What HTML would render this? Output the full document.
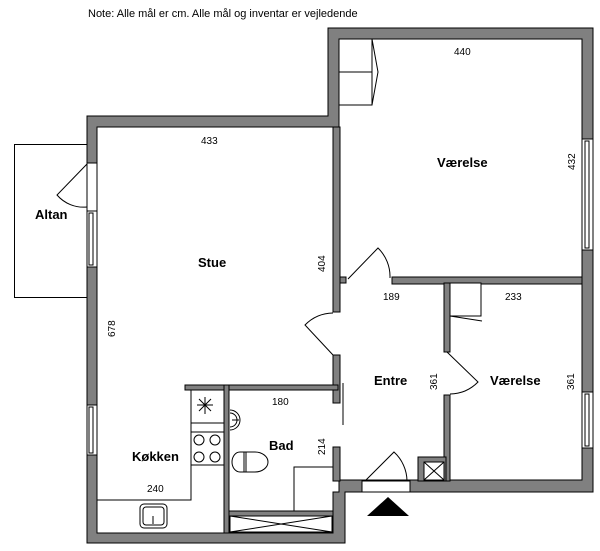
<!DOCTYPE html>
<html><head><meta charset="utf-8"><style>
html,body{margin:0;padding:0;background:#fff;width:600px;height:551px;overflow:hidden}
svg{display:block}
text{font-family:"Liberation Sans",sans-serif;fill:#000}
.w{fill:#808080;stroke:#000;stroke-width:1}
.l{fill:none;stroke:#000;stroke-width:1}
.f{fill:#fff;stroke:#000;stroke-width:1}
.b{font-weight:bold;font-size:13px}
.s{font-size:10px}
</style></head><body>
<svg width="600" height="551" viewBox="0 0 600 551">
<text x="88" y="17" font-size="11">Note: Alle mål er cm. Alle mål og inventar er vejledende</text>
<!-- Altan -->
<rect x="14.5" y="144.5" width="73" height="153" class="l"/>
<!-- outer walls -->
<path class="w" d="M87,116 H328 V28 H593 V492 H345 V543 H87 Z M97,127 V533 H224 V390 H229 V533 H333 V492 H339 V480 H582 V39 H339 V127 Z" fill-rule="evenodd"/>
<!-- Stue/right divider -->
<rect class="w" x="333" y="127" width="7" height="185"/>
<rect class="w" x="333" y="355" width="7" height="48"/>
<rect class="w" x="333" y="447" width="7" height="34"/>
<rect class="w" x="340" y="277" width="6" height="6"/>
<!-- Værelse bottom wall -->
<rect class="w" x="392" y="277" width="190" height="7"/>
<!-- Entre / lower værelse wall -->
<rect class="w" x="444" y="283" width="6" height="69"/>
<rect class="w" x="444" y="395" width="6" height="86"/>
<!-- shaft -->
<rect class="w" x="418" y="457" width="28" height="24"/>
<rect class="f" x="424" y="462" width="20" height="18"/>
<path class="l" d="M424,462 L444,480 M444,462 L424,480"/>
<!-- kitchen/bath walls -->
<rect class="w" x="185" y="385" width="153" height="5"/>
<rect class="w" x="224" y="385" width="5" height="148"/>
<rect class="w" x="229" y="511" width="104" height="5"/>
<rect class="f" x="230" y="516" width="102" height="16"/>
<path class="l" d="M230,516 L332,532 M332,516 L230,532"/>
<!-- windows -->
<rect class="f" x="87" y="211" width="10" height="56"/><rect class="l" x="89" y="213" width="4" height="52"/>
<rect class="f" x="87" y="405" width="10" height="50"/><rect class="l" x="89" y="407" width="4" height="46"/>
<rect class="f" x="582" y="139" width="11" height="111"/><rect class="l" x="585" y="141" width="4" height="107"/>
<rect class="f" x="582" y="392" width="11" height="56"/><rect class="l" x="585" y="394" width="4" height="52"/>
<!-- altan door -->
<rect class="f" x="87" y="163" width="10" height="48"/>
<path class="l" d="M87,164 L57,195 A35,35 0 0 0 87,207"/>
<!-- stue door -->
<path class="l" d="M333,355 L305,325 A40,40 0 0 1 333,313"/>
<!-- værelse top door -->
<path class="l" d="M348,279 L378,248 A40,40 0 0 1 390,278"/>
<!-- lower værelse door -->
<path class="l" d="M447,352 L478,382 A40,40 0 0 1 450,394"/>
<!-- bath sliding door -->
<path class="l" d="M343,383 V425"/>
<!-- entrance -->
<rect class="f" x="362" y="481" width="48" height="11"/>
<path class="l" d="M365,481 L394,452 A40,40 0 0 1 407,481"/>
<polygon points="367,516 388,497 409,516" fill="#000"/>
<!-- closets -->
<rect class="f" x="339" y="39" width="33" height="33"/><rect class="f" x="339" y="72" width="33" height="33"/>
<path class="l" d="M372,39 L378,72 L372,105"/>
<rect class="f" x="450" y="283" width="31" height="33"/>
<path class="l" d="M450,316 L482,321"/>
<!-- kitchen -->
<path class="l" d="M97,500 H191 V390 M191,423 H224 M191,432 H224 M191,465 H224"/>
<path class="l" d="M205,397 V414 M197,405 H213 M199,399 L211,411 M211,399 L199,411"/>
<circle class="l" cx="199" cy="440" r="5"/><circle class="l" cx="215" cy="440" r="5"/>
<circle class="l" cx="199" cy="457" r="5"/><circle class="l" cx="215" cy="457" r="5"/>
<rect class="l" x="140" y="504" width="27" height="24" rx="4"/><rect class="l" x="143" y="507" width="21" height="18" rx="3"/>
<path class="l" d="M153,516 V524"/>
<!-- bath fixtures -->
<path class="l" d="M230,410 A10,10 0 0 1 230,430 M230,413 A7,7 0 0 1 230,427 M232,420 H239"/>
<path class="l" d="M240,452 H255 A13,10 0 0 1 255,472 H240 A8,10 0 0 1 240,452 M244,452 V472 M246,452 V472"/>
<path class="l" d="M294,511 V467 H333"/>
<!-- labels -->
<text x="201" y="144" class="s">433</text>
<text x="454" y="55" class="s">440</text>
<text x="437" y="167" class="b">Værelse</text>
<text x="198" y="267" class="b">Stue</text>
<text x="35" y="219" class="b">Altan</text>
<text x="374" y="385" class="b">Entre</text>
<text x="490" y="385" class="b">Værelse</text>
<text x="132" y="461" class="b">Køkken</text>
<text x="269" y="450" class="b">Bad</text>
<text x="383" y="300" class="s">189</text>
<text x="505" y="300" class="s">233</text>
<text x="272" y="405" class="s">180</text>
<text x="147" y="492" class="s">240</text>
<text class="s" transform="translate(325,272) rotate(-90)">404</text>
<text class="s" transform="translate(575,170) rotate(-90)">432</text>
<text class="s" transform="translate(115,337) rotate(-90)">678</text>
<text class="s" transform="translate(437,390) rotate(-90)">361</text>
<text class="s" transform="translate(574,390) rotate(-90)">361</text>
<text class="s" transform="translate(325,455) rotate(-90)">214</text>
</svg>
</body></html>
